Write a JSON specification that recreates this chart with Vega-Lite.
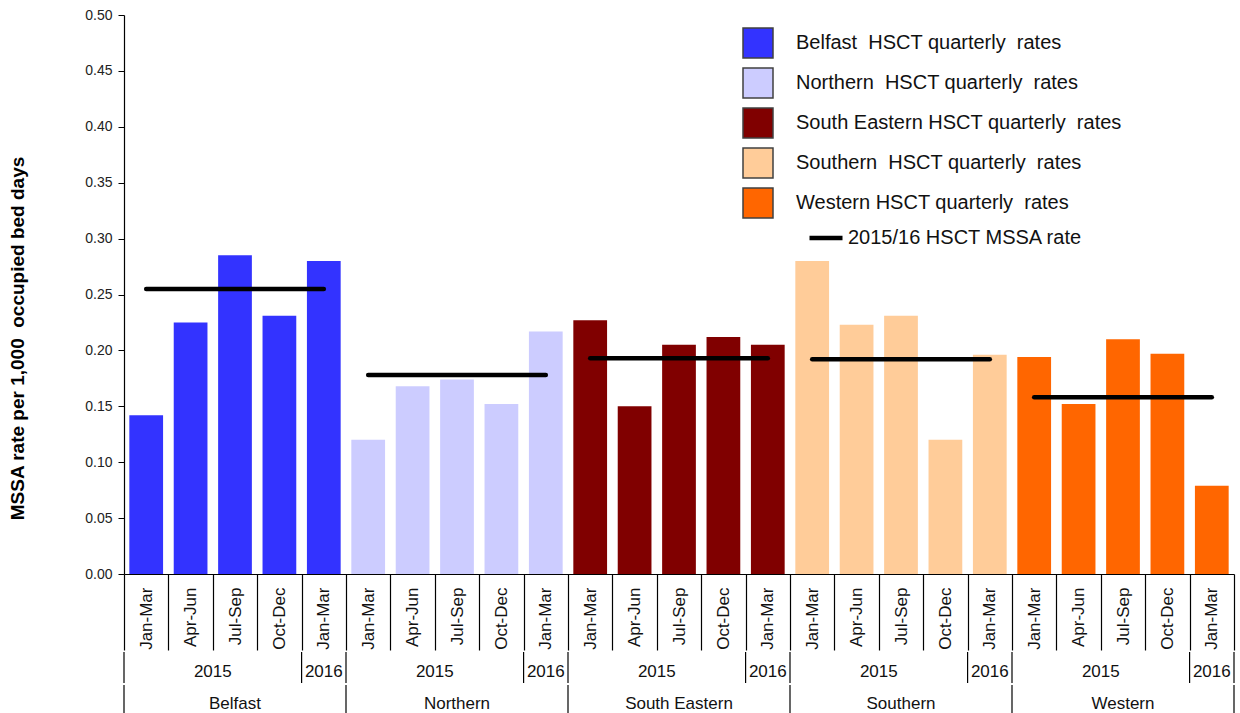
{
  "$schema": "https://vega.github.io/schema/vega-lite/v6.json",
  "padding": {"left": 8, "top": 8, "right": 2, "bottom": 0},
  "config": {
    "font": "Liberation Sans",
    "view": {"stroke": null},
    "scale": {"bandPaddingInner": 0, "bandPaddingOuter": 0},
    "text": {"color": "#111111"}
  },
  "data": {
    "values": [
      {"region": "Belfast", "year": 2015, "quarter": "Jan-Mar", "n": 1, "rate": 0.142, "hsct_rate": 0.255},
      {"region": "Belfast", "year": 2015, "quarter": "Apr-Jun", "n": 2, "rate": 0.225, "hsct_rate": 0.255},
      {"region": "Belfast", "year": 2015, "quarter": "Jul-Sep", "n": 3, "rate": 0.285, "hsct_rate": 0.255},
      {"region": "Belfast", "year": 2015, "quarter": "Oct-Dec", "n": 4, "rate": 0.231, "hsct_rate": 0.255},
      {"region": "Belfast", "year": 2016, "quarter": "Jan-Mar", "n": 5, "rate": 0.280, "hsct_rate": 0.255},
      {"region": "Northern", "year": 2015, "quarter": "Jan-Mar", "n": 6, "rate": 0.120, "hsct_rate": 0.178},
      {"region": "Northern", "year": 2015, "quarter": "Apr-Jun", "n": 7, "rate": 0.168, "hsct_rate": 0.178},
      {"region": "Northern", "year": 2015, "quarter": "Jul-Sep", "n": 8, "rate": 0.174, "hsct_rate": 0.178},
      {"region": "Northern", "year": 2015, "quarter": "Oct-Dec", "n": 9, "rate": 0.152, "hsct_rate": 0.178},
      {"region": "Northern", "year": 2016, "quarter": "Jan-Mar", "n": 10, "rate": 0.217, "hsct_rate": 0.178},
      {"region": "South Eastern", "year": 2015, "quarter": "Jan-Mar", "n": 11, "rate": 0.227, "hsct_rate": 0.193},
      {"region": "South Eastern", "year": 2015, "quarter": "Apr-Jun", "n": 12, "rate": 0.150, "hsct_rate": 0.193},
      {"region": "South Eastern", "year": 2015, "quarter": "Jul-Sep", "n": 13, "rate": 0.205, "hsct_rate": 0.193},
      {"region": "South Eastern", "year": 2015, "quarter": "Oct-Dec", "n": 14, "rate": 0.212, "hsct_rate": 0.193},
      {"region": "South Eastern", "year": 2016, "quarter": "Jan-Mar", "n": 15, "rate": 0.205, "hsct_rate": 0.193},
      {"region": "Southern", "year": 2015, "quarter": "Jan-Mar", "n": 16, "rate": 0.280, "hsct_rate": 0.192},
      {"region": "Southern", "year": 2015, "quarter": "Apr-Jun", "n": 17, "rate": 0.223, "hsct_rate": 0.192},
      {"region": "Southern", "year": 2015, "quarter": "Jul-Sep", "n": 18, "rate": 0.231, "hsct_rate": 0.192},
      {"region": "Southern", "year": 2015, "quarter": "Oct-Dec", "n": 19, "rate": 0.120, "hsct_rate": 0.192},
      {"region": "Southern", "year": 2016, "quarter": "Jan-Mar", "n": 20, "rate": 0.196, "hsct_rate": 0.192},
      {"region": "Western", "year": 2015, "quarter": "Jan-Mar", "n": 21, "rate": 0.194, "hsct_rate": 0.158},
      {"region": "Western", "year": 2015, "quarter": "Apr-Jun", "n": 22, "rate": 0.152, "hsct_rate": 0.158},
      {"region": "Western", "year": 2015, "quarter": "Jul-Sep", "n": 23, "rate": 0.210, "hsct_rate": 0.158},
      {"region": "Western", "year": 2015, "quarter": "Oct-Dec", "n": 24, "rate": 0.197, "hsct_rate": 0.158},
      {"region": "Western", "year": 2016, "quarter": "Jan-Mar", "n": 25, "rate": 0.079, "hsct_rate": 0.158}
    ]
  },
  "spacing": 0,
  "resolve": {
    "scale": {"x": "shared", "color": "independent", "stroke": "independent"},
    "legend": {"color": "independent", "stroke": "independent"}
  },
  "vconcat": [
    {
      "width": 1110,
      "height": 559,
      "layer": [
        {
          "mark": {"type": "bar", "width": {"band": 0.76}},
          "encoding": {
            "x": {
              "field": "n", "type": "ordinal",
              "axis": {
                "title": null,
                "labelExpr": "['Jan-Mar','Apr-Jun','Jul-Sep','Oct-Dec','Jan-Mar'][(datum.value-1)%5]",
                "tickBand": "extent",
                "tickSize": 76,
                "tickWidth": 1.2,
                "tickColor": "#000000",
                "domainColor": "#000000",
                "domainWidth": 1.2,
                "labelAngle": 270,
                "labelAlign": "right",
                "labelBaseline": "middle",
                "labelPadding": -63,
                "labelFontSize": 17,
                "labelColor": "#111111"
              }
            },
            "y": {
              "field": "rate", "type": "quantitative",
              "scale": {"domain": [0, 0.5]},
              "axis": {
                "title": "MSSA rate per 1,000\u00a0 occupied bed days",
                "titleFontSize": 19,
                "titleFontWeight": "bold",
                "titleColor": "#000000",
                "titlePadding": 57,
                "titleY": 323,
                "values": [0, 0.05, 0.1, 0.15, 0.2, 0.25, 0.3, 0.35, 0.4, 0.45, 0.5],
                "format": ".2f",
                "labelFontSize": 14,
                "labelColor": "#222222",
                "labelPadding": 6,
                "tickSize": 6,
                "tickColor": "#000000",
                "domainColor": "#000000",
                "domainWidth": 1.2,
                "grid": false
              }
            },
            "color": {
              "field": "region", "type": "nominal",
              "scale": {
                "domain": ["Belfast", "Northern", "South Eastern", "Southern", "Western"],
                "range": ["#3333FF", "#CCCCFF", "#800000", "#FFCC99", "#FF6600"]
              },
              "legend": {
                "title": null,
                "orient": "none",
                "legendX": 618,
                "legendY": 12,
                "padding": 0,
                "symbolType": "square",
                "symbolSize": 900,
                "symbolStrokeColor": "#404040",
                "symbolStrokeWidth": 1.5,
                "symbolOpacity": 1,
                "labelExpr": "datum.label + (datum.label == 'Belfast' || datum.label == 'Northern' || datum.label == 'Southern' ? '\u00a0' : '') + ' HSCT quarterly\u00a0 rates'",
                "labelFontSize": 20,
                "labelColor": "#111111",
                "labelOffset": 22,
                "labelLimit": 500,
                "rowPadding": 4
              }
            }
          }
        },
        {
          "mark": {"type": "line", "strokeWidth": 4.5, "strokeCap": "round"},
          "encoding": {
            "x": {"field": "n", "type": "ordinal"},
            "y": {"field": "hsct_rate", "type": "quantitative"},
            "detail": {"field": "region"},
            "stroke": {
              "datum": "2015/16 HSCT MSSA rate", "type": "nominal",
              "scale": {"range": ["#000000"]},
              "legend": {
                "title": null,
                "orient": "none",
                "legendX": 683,
                "legendY": 204,
                "padding": 0,
                "symbolType": "stroke",
                "symbolSize": 1089,
                "symbolStrokeWidth": 4.5,
                "labelFontSize": 20,
                "labelColor": "#111111",
                "labelOffset": 3,
                "labelLimit": 500
              }
            }
          }
        }
      ]
    },
    {
      "width": 1110,
      "height": 31,
      "layer": [
        {
          "transform": [{"filter": "datum.quarter == 'Jan-Mar'"}],
          "mark": {"type": "rule", "color": "#000000", "strokeWidth": 1.2},
          "encoding": {"x": {"field": "n", "type": "ordinal", "bandPosition": 0, "axis": null}}
        },
        {
          "transform": [{"filter": "datum.n == 25"}],
          "mark": {"type": "rule", "color": "#000000", "strokeWidth": 1.2},
          "encoding": {"x": {"field": "n", "type": "ordinal", "bandPosition": 1, "axis": null}}
        },
        {
          "transform": [{"filter": "datum.quarter == 'Jul-Sep'"}],
          "mark": {"type": "text", "fontSize": 17, "baseline": "middle", "dy": 4},
          "encoding": {
            "x": {"field": "n", "type": "ordinal", "bandPosition": 0, "axis": null},
            "text": {"field": "year"}
          }
        },
        {
          "transform": [{"filter": "datum.year == 2016"}],
          "mark": {"type": "text", "fontSize": 17, "baseline": "middle", "dy": 4},
          "encoding": {
            "x": {"field": "n", "type": "ordinal", "bandPosition": 0.5, "axis": null},
            "text": {"field": "year"}
          }
        }
      ]
    },
    {
      "width": 1110,
      "height": 32,
      "layer": [
        {
          "transform": [{"filter": "datum.quarter == 'Jan-Mar' && datum.year == 2015"}],
          "mark": {"type": "rule", "color": "#000000", "strokeWidth": 1.2},
          "encoding": {"x": {"field": "n", "type": "ordinal", "bandPosition": 0, "axis": null}}
        },
        {
          "transform": [{"filter": "datum.n == 25"}],
          "mark": {"type": "rule", "color": "#000000", "strokeWidth": 1.2},
          "encoding": {"x": {"field": "n", "type": "ordinal", "bandPosition": 1, "axis": null}}
        },
        {
          "transform": [{"filter": "datum.quarter == 'Jul-Sep'"}],
          "mark": {"type": "text", "fontSize": 17, "baseline": "middle", "dy": 3},
          "encoding": {
            "x": {"field": "n", "type": "ordinal", "bandPosition": 0.5, "axis": null},
            "text": {"field": "region"}
          }
        }
      ]
    }
  ]
}
